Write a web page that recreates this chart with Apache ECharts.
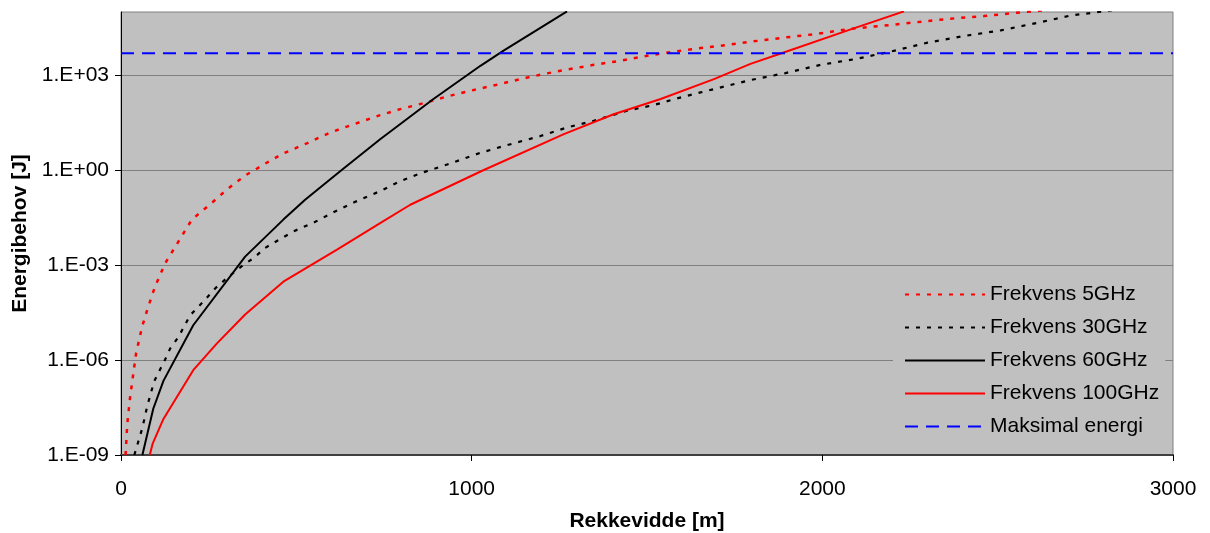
<!DOCTYPE html>
<html>
<head>
<meta charset="utf-8">
<script src="https://cdn.jsdelivr.net/npm/echarts@6/dist/echarts.min.js"></script>
<style>
  html, body { margin: 0; padding: 0; background: #fff; }
  #chart { width: 1210px; height: 533px; }
</style>
</head>
<body>
<div id="chart"></div>
<script>
// rekkevidde [m] og energibehov [J], lest av figuren
var f5Range = [13, 18, 26, 43, 60, 76, 97, 126, 164, 202, 230, 259, 302, 354, 380, 413, 463, 530, 597, 642, 739, 796, 863, 930, 996, 1068, 1139, 1205, 1272, 1348, 1424, 1501, 1577, 1653, 1729, 1795, 1890, 1986, 2081, 2176, 2271, 2366, 2461, 2557, 2640];
var f5Energy = [1e-9, 1e-8, 6.8e-8, 1.62e-6, 1.12e-5, 4.27e-5, 2.09e-4, 1.15e-3, 5.6e-3, 0.0275, 0.050, 0.093, 0.245, 0.68, 1.0, 1.66, 3.39, 7.1, 15.5, 23.4, 55, 85, 132, 214, 324, 490, 759, 1096, 1514, 2138, 2884, 4169, 5623, 7244, 9120, 11482, 15488, 20417, 29512, 37154, 47863, 61660, 74131, 95499, 114815];

var f30Range = [38, 61, 75, 95, 126, 140, 164, 197, 230, 271, 302, 349, 378, 411, 459, 492, 554, 606, 668, 739, 796, 858, 930, 1025, 1101, 1196, 1272, 1348, 1443, 1520, 1586, 1653, 1719, 1795, 1895, 1995, 2098, 2195, 2300, 2404, 2509, 2614, 2709, 2830];
var f30Energy = [1e-9, 7.2e-9, 3.6e-8, 2.2e-7, 1.05e-6, 2.3e-6, 5.4e-6, 2.6e-5, 6.2e-5, 1.95e-4, 3.9e-4, 1.02e-3, 1.66e-3, 3.5e-3, 7.2e-3, 0.0117, 0.0234, 0.047, 0.1, 0.219, 0.447, 0.83, 1.51, 3.55, 6.2, 12.0, 22.4, 36.3, 75.9, 115, 186, 288, 437, 708, 1175, 2138, 3311, 5623, 10715, 17378, 26303, 45709, 77625, 114815];

var f60Range = [61, 92, 121, 206, 354, 463, 525, 625, 739, 825, 891, 1025, 1091, 1272];
var f60Energy = [1e-9, 2.9e-8, 2.2e-7, 1.26e-5, 1.86e-3, 0.0275, 0.117, 0.93, 9.5, 50, 178, 1995, 6026, 104713];

var f100Range = [82, 90, 121, 206, 273, 354, 463, 616, 739, 825, 1030, 1263, 1405, 1539, 1691, 1795, 1890, 2081, 2233];
var f100Energy = [1e-9, 2.24e-9, 1.38e-8, 4.8e-7, 3.3e-6, 2.75e-5, 3.0e-4, 3.1e-3, 0.0214, 0.081, 0.96, 13.8, 58.9, 178, 759, 2291, 5248, 28184, 104713];

var maxRange = [0, 3000];
var maxEnergy = [5000, 5000];

var seriesNames = ['Frekvens 5GHz', 'Frekvens 30GHz', 'Frekvens 60GHz', 'Frekvens 100GHz', 'Maksimal energi'];
var yTickValues = [1e-9, 1e-6, 1e-3, 1, 1e3];
var xTickValues = [0, 1000, 2000, 3000];

function pairs(xs, ys) {
    var out = [];
    for (var i = 0; i < xs.length; i++) {
        out.push([xs[i], ys[i]]);
    }
    return out;
}

function expLabel(v) {
    var e = Math.round(Math.log10(v));
    var s = String(Math.abs(e));
    if (s.length < 2) s = '0' + s;
    return '1.E' + (e < 0 ? '-' : '+') + s;
}

var font = 'Liberation Sans, Arial, sans-serif';
var myChart = echarts.init(document.getElementById('chart'));

var option = {
    animation: false,
    textStyle: { fontFamily: font },
    grid: {
        left: 121,
        right: 37,
        top: 12,
        bottom: 78,
        outerBoundsMode: 'none',
        containLabel: false,
        show: true,
        backgroundColor: '#C0C0C0',
        borderColor: '#808080',
        borderWidth: 1
    },
    legend: {
        orient: 'vertical',
        left: 893,
        top: 276,
        padding: [8, 6, 8, 11],
        backgroundColor: '#C0C0C0',
        itemWidth: 80,
        itemHeight: 14,
        itemGap: 12,
        itemStyle: { opacity: 0 },
        textStyle: { fontSize: 21, color: '#000', fontFamily: font },
        data: seriesNames
    },
    xAxis: {
        type: 'value',
        min: 0,
        max: 3000,
        interval: 1000,
        name: 'Rekkevidde [m]',
        nameLocation: 'middle',
        nameGap: 56,
        nameTextStyle: { fontSize: 21, fontWeight: 'bold', color: '#000', fontFamily: font },
        axisLine: { lineStyle: { color: '#404040', width: 2 } },
        axisTick: { show: true, length: 6, lineStyle: { color: '#000' }, customValues: xTickValues },
        axisLabel: {
            fontSize: 21,
            color: '#000',
            margin: 24,
            fontFamily: font,
            customValues: xTickValues,
            formatter: function (v) { return String(v); }
        },
        splitLine: { show: false }
    },
    yAxis: {
        type: 'log',
        logBase: 1000,
        min: 1e-9,
        max: 1e5,
        name: 'Energibehov [J]',
        nameLocation: 'middle',
        nameGap: 83,
        nameTextStyle: { fontSize: 21, fontWeight: 'bold', color: '#000', fontFamily: font },
        axisLine: { show: true, lineStyle: { color: '#000', width: 1 } },
        axisTick: { show: true, length: 6, lineStyle: { color: '#000' }, customValues: yTickValues },
        axisLabel: {
            fontSize: 21,
            color: '#000',
            margin: 12,
            fontFamily: font,
            customValues: yTickValues,
            formatter: expLabel
        },
        splitLine: { show: true, lineStyle: { color: '#808080', width: 1 } }
    },
    series: [
        {
            name: seriesNames[0],
            type: 'line',
            symbol: 'none',
            lineStyle: { color: '#FF0000', width: 2.5, type: [4, 7] },
            itemStyle: { color: '#FF0000' },
            data: pairs(f5Range, f5Energy)
        },
        {
            name: seriesNames[1],
            type: 'line',
            symbol: 'none',
            lineStyle: { color: '#000000', width: 2.2, type: [4, 7] },
            itemStyle: { color: '#000000' },
            data: pairs(f30Range, f30Energy)
        },
        {
            name: seriesNames[2],
            type: 'line',
            symbol: 'none',
            lineStyle: { color: '#000000', width: 2 },
            itemStyle: { color: '#000000' },
            data: pairs(f60Range, f60Energy)
        },
        {
            name: seriesNames[3],
            type: 'line',
            symbol: 'none',
            lineStyle: { color: '#FF0000', width: 2 },
            itemStyle: { color: '#FF0000' },
            data: pairs(f100Range, f100Energy)
        },
        {
            name: seriesNames[4],
            type: 'line',
            symbol: 'none',
            lineStyle: { color: '#0000FF', width: 2, type: [13, 8] },
            itemStyle: { color: '#0000FF' },
            data: pairs(maxRange, maxEnergy)
        }
    ]
};

myChart.setOption(option);
</script>
</body>
</html>
